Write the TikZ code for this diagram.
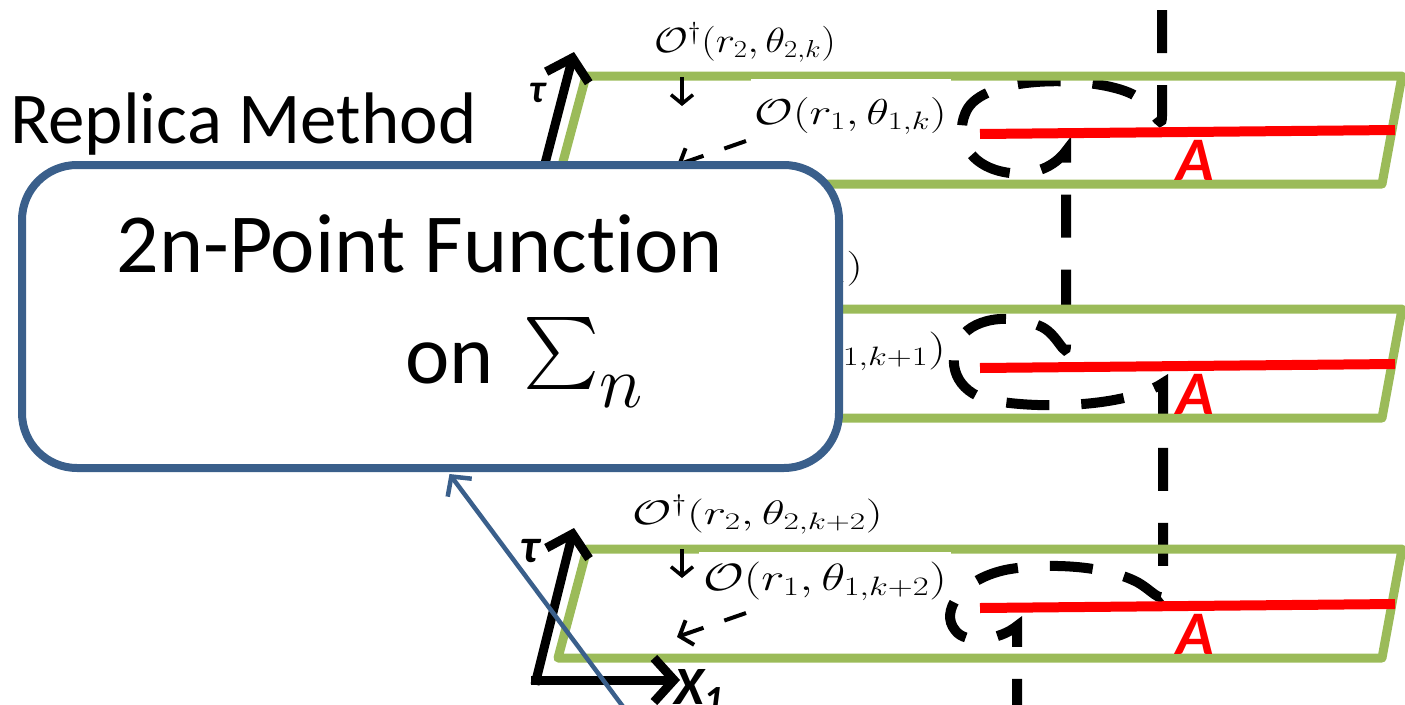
\RequirePackage{fix-cm}
\documentclass[tikz,border=0pt]{standalone}
\usepackage{fontspec}
\setmainfont{Carlito}[Ligatures=NoCommon]
\usetikzlibrary{arrows.meta,calc}
\definecolor{sheetgreen}{HTML}{9BBB59}
\definecolor{boxblue}{HTML}{3A5F8B}
\definecolor{cutred}{HTML}{FF0000}
\newcommand{\fsz}[1]{\fontsize{#1}{#1}\selectfont}
\newcommand{\wide}[2]{\scalebox{#1}[1]{#2}}
\begin{document}
\begin{tikzpicture}[x=1pt, y=-1pt,
  sheet/.style={draw=sheetgreen, line width=9pt, line join=round},
  cut/.style={draw=cutred, line width=10pt},
  cutlabel/.style={text=cutred, font=\fsz{62}\bfseries\itshape, anchor=base west, inner sep=0pt},
  glue/.style={draw=black, line width=10pt, dash pattern=on 43pt off 32pt},
  axisarrow/.style={draw=black, line width=9pt, -{Straight Barb[length=20pt,width=44pt]}},
  axislabel/.style={font=\bfseries\itshape, inner sep=0pt},
  oplabel/.style={anchor=base east, inner sep=0pt},
  pointer/.style={draw=black, line width=3.5pt, -{Straight Barb[length=9pt,width=22pt]}},
  dpointer/.style={draw=black, line width=4pt, dash pattern=on 23pt off 22pt, -{Straight Barb[length=11pt,width=26pt]}},
  fnbox/.style={draw=boxblue, line width=8pt, fill=white, rounded corners=55pt, inner sep=0pt, anchor=north west},
  bluearrow/.style={draw=boxblue, line width=4.5pt, -{Straight Barb[length=14pt,width=30pt]}}]
\useasboundingbox (0,0) rectangle (1405,704);

% the gluing curve running through the three sheets
\draw[glue] (1162,10) -- (1162,116)
  .. controls (1162,134) and (1152,104) .. (1132,94)
  .. controls (1095,76) and (990,74) .. (968,108)
  .. controls (952,135) and (968,168) .. (1010,173)
  .. controls (1040,176) and (1058,162) .. (1066,151)
  -- (1066,345)
  .. controls (1066,360) and (1058,335) .. (1042,327)
  .. controls (1010,312) and (970,318) .. (958,342)
  .. controls (946,368) and (960,396) .. (995,401)
  .. controls (1050,410) and (1130,405) .. (1163,383)
  -- (1163,592)
  .. controls (1163,606) and (1150,588) .. (1135,581)
  .. controls (1100,564) and (1040,563) .. (1005,570)
  .. controls (960,580) and (940,612) .. (955,630)
  .. controls (965,645) and (1000,640) .. (1017,626)
  -- (1017,712);

% the three sheets
\draw[sheet] (586,76) -- (1402,76) -- (1382,184) -- (557,184) -- cycle;
\draw[sheet] (586,309) -- (1402,309) -- (1382,418) -- (557,418) -- cycle;
\draw[sheet] (587,549) -- (1402,549) -- (1382,658) -- (558,658) -- cycle;

% the interval A on each sheet
\draw[cut] (980,134) -- (1395,130);
\draw[cut] (980,368) -- (1395,364);
\draw[cut] (980,608) -- (1395,604);
\node[cutlabel] (A1) at (1176,180) {A};
\node[cutlabel] (A2) at (1176,414) {A};
\node[cutlabel] (A3) at (1176,654) {A};

% coordinate axes
\coordinate (tau1o) at (535,202);
\coordinate (tau1e) at (574,52);
\coordinate (tau3o) at (535,680);
\coordinate (tau3e) at (574,528);
\coordinate (x3e) at (680,680);
\draw[axisarrow] (tau1o) -- (tau1e);
\draw[axisarrow, line join=miter] ($(tau3o)+(0,4.5)$) -- (tau3e);
\draw[axisarrow] ($(tau3o)+(-4,0)$) -- (x3e);
\node[axislabel, font=\fsz{40}\bfseries\itshape] (tau1) at (537,93) {τ};
\node[axislabel, font=\fsz{48}\bfseries\itshape] (tau3) at (530,551) {τ};
\node[axislabel, anchor=base west] (x1) at (674,704) {\fsz{54}\bfseries\itshape X{\fsz{40}\raisebox{-9pt}{1}}};

% operator insertions
\node[oplabel, font=\fsz{35}] (od1) at (836,52) {\wide{1.17}{$\mathcal{O}^{\dagger}(r_2,\theta_{2,k})$}};
\node[oplabel, font=\fsz{36}, fill=white, inner xsep=4pt, text height=45pt, text depth=9pt] (o1) at (951,124) {\wide{1.3}{$\mathcal{O}(r_1,\theta_{1,k})$}};
\node[oplabel, font=\fsz{35}] (od2) at (863,277) {\wide{1.3}{$\mathcal{O}^{\dagger}(r_2,\theta_{2,k+1})$}};
\node[oplabel, font=\fsz{38}] (o2) at (946,360) {\wide{1.3}{$\mathcal{O}(r_1,\theta_{1,k+1})$}};
\node[oplabel, font=\fsz{34}] (od3) at (883,524) {\wide{1.4}{$\mathcal{O}^{\dagger}(r_2,\theta_{2,k+2})$}};
\node[oplabel, font=\fsz{38}, fill=white, inner xsep=4pt, text height=38pt, text depth=10pt] (o3) at (951,590) {\wide{1.3}{$\mathcal{O}(r_1,\theta_{1,k+2})$}};

\coordinate (s1) at (682,77);
\coordinate (p1) at (682,106);
\coordinate (s3) at (682,549);
\coordinate (p3) at (682,578);
\draw[pointer] (s1) -- (p1);
\draw[pointer] (s3) -- (p3);
\coordinate (q1s) at (746,141);
\coordinate (q1) at (677,165);
\coordinate (q3s) at (746,613);
\coordinate (q3) at (677,637);
\draw[dpointer] (q1s) -- (q1);
\draw[dpointer] (q3s) -- (q3);

% title and the summary box
\node[anchor=base west, inner sep=0pt, font=\fsz{73}] (title) at (10,143) {Replica Method};
\node[fnbox, minimum width=817pt, minimum height=303pt] (fn) at (18,161) {};
\node[anchor=base, inner sep=0pt, font=\fsz{84}] (fnl1) at (420,272) {2n-Point Function};
\node[anchor=base west, inner sep=0pt, font=\fsz{84}] (fnon) at (405,383) {on};
\node[inner sep=0pt, anchor=west] (fnsig) at (523,353) {\resizebox*{!}{72pt}{$\sum$}};
\node[anchor=base west, inner sep=0pt, font=\fsz{74}] (fnn) at (599,407) {$n$};

\coordinate (bstart) at (624,708);
\draw[bluearrow] (bstart) -- ($(fn.south)+(19,2)$);
\end{tikzpicture}
\end{document}
